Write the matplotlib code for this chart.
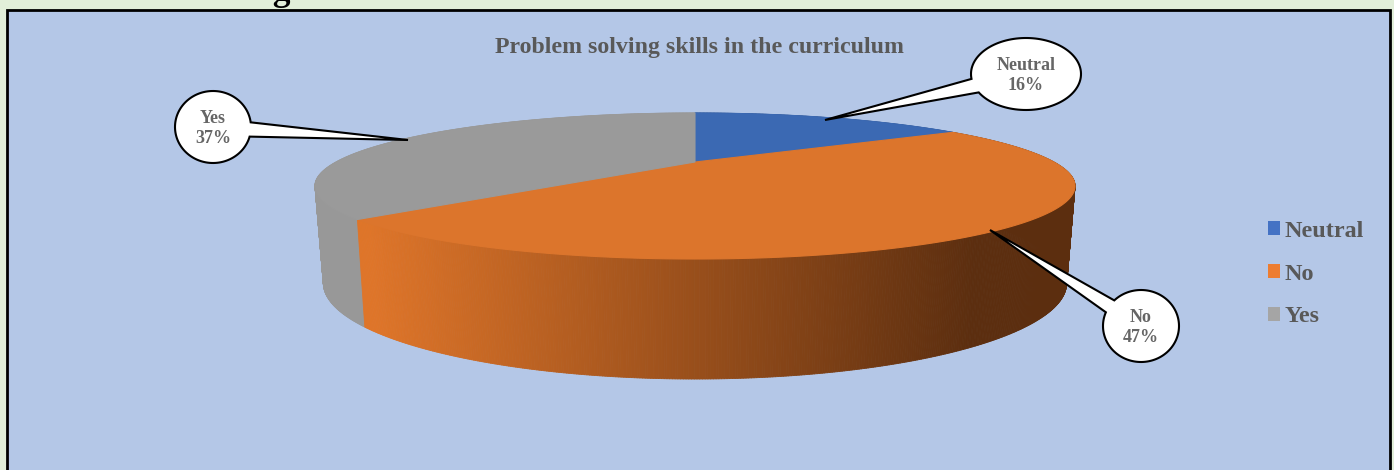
import numpy as np
import matplotlib
matplotlib.use('Agg')
import matplotlib.pyplot as plt
from matplotlib.collections import PolyCollection
from matplotlib.colors import to_rgb
from matplotlib.patches import Patch, PathPatch, Polygon, Rectangle
from matplotlib.path import Path

labels = ['Neutral', 'No', 'Yes']
shares = [16, 47, 37]
chart_title = 'Problem solving skills in the curriculum'
heading = 'Problem solving skills in the Curriculum'

top_colors = ['#3B69B3', '#DC752C', '#9A9A9A']
legend_colors = ['#4472C4', '#ED7D31', '#A5A5A5']
grey_text = '#595959'
serif = 'Liberation Serif'

W, H = 1394, 470

# perspective of the disc, fitted by eye against the picture
CX = 695
C_TOP = (358.9, -11.85, 162.0, 0.3288)
C_BOTTOM = (351.0, -2.9, 251.5, 0.3288)


def project(theta, coef):
    k, a, b, c = coef
    u, v = np.sin(theta), np.cos(theta)
    return CX + k * u / (1 + c * v), (a * v + b) / (1 + c * v)


def side_color(i, x):
    if i == 1:
        t = np.clip((x - 370) / (975 - 370), 0, 1)
        return tuple((1 - t) * np.array(to_rgb('#DF7529')) + t * np.array(to_rgb('#5C2E0F')))
    if i == 0:
        return to_rgb('#2C4E86')
    return to_rgb('#989898')


def callout(ax, cx, cy, rx, ry, tip, gap, text, size):
    # bubble and pointer as one outline
    tip_angle = np.arctan2((tip[1] - cy) / ry, (tip[0] - cx) / rx)
    t = np.linspace(tip_angle + gap, tip_angle + 2 * np.pi - gap, 120)
    pts = np.column_stack([cx + rx * np.cos(t), cy + ry * np.sin(t)])
    pts = np.vstack([pts, tip, pts[0]])
    codes = [Path.MOVETO] + [Path.LINETO] * (len(pts) - 2) + [Path.CLOSEPOLY]
    ax.add_patch(PathPatch(Path(pts, codes), facecolor='white', edgecolor='black',
                           lw=1.5, joinstyle='miter', zorder=5))
    ax.text(cx, cy + 1.5, text, ha='center', va='center', family=serif, weight='bold',
            fontsize=size, color='#666666', linespacing=1.25, zorder=6)


fig = plt.figure(figsize=(W / 100, H / 100), dpi=100, facecolor='#E2EFD9')
ax = fig.add_axes([0, 0, 1, 1])
ax.set_xlim(0, W)
ax.set_ylim(H, 0)
ax.axis('off')

# page heading, cut off by the top of the crop
ax.text(46, 0.5, heading, family=serif, weight='bold', fontsize=25.5, color='black',
        ha='left', va='baseline', clip_on=False, zorder=1)
ax.add_patch(Rectangle((7, 10), 1383, 480, facecolor='#B4C7E7', edgecolor='black', lw=2, zorder=2))
ax.text(699, 47, chart_title, family=serif, weight='bold', fontsize=17.2, color=grey_text,
        ha='center', va='center', zorder=6)

edges = np.cumsum([0] + shares) / sum(shares) * 2 * np.pi

# rim, back to front
quads, colors, depth = [], [], []
for i in range(len(shares)):
    th = np.linspace(edges[i], edges[i + 1], int(shares[i] * 12) + 2)
    for t0, t1 in zip(th[:-1], th[1:]):
        x0, y0 = project(t0, C_TOP)
        x1, y1 = project(t1, C_TOP)
        x2, y2 = project(t1, C_BOTTOM)
        x3, y3 = project(t0, C_BOTTOM)
        quads.append([(x0, y0), (x1, y1), (x2, y2), (x3, y3)])
        colors.append(side_color(i, (x0 + x1) / 2))
        depth.append(np.cos((t0 + t1) / 2))
order = np.argsort(depth)[::-1]
ax.add_collection(PolyCollection([quads[j] for j in order], facecolors=[colors[j] for j in order],
                                 edgecolors=[colors[j] for j in order], linewidths=0.6, zorder=3))

# top of the disc
centre = (CX, C_TOP[2])
for i in range(len(shares)):
    th = np.linspace(edges[i], edges[i + 1], 200)
    xs, ys = project(th, C_TOP)
    ax.add_patch(Polygon(np.vstack([centre, np.column_stack([xs, ys])]), closed=True,
                         facecolor=top_colors[i], edgecolor=top_colors[i], lw=0.8, zorder=4))

callout(ax, 1026, 74, 55, 36, (825, 120), 0.20, f'{labels[0]}\n{shares[0]}%', 13)
callout(ax, 1141, 326, 38, 36, (990, 230), 0.20, f'{labels[1]}\n{shares[1]}%', 13)
callout(ax, 213, 127, 38, 36, (408, 140), 0.20, f'{labels[2]}\n{shares[2]}%', 13)

handles = [Patch(facecolor=c, edgecolor='none') for c in legend_colors]
leg = ax.legend(handles, labels, loc='center left', bbox_to_anchor=(1268 / W, 1 - 274 / H),
                frameon=False, handlelength=0.5, handleheight=0.5, handletextpad=0.2,
                labelspacing=0.9, borderpad=0, borderaxespad=0,
                prop={'family': serif, 'weight': 'bold', 'size': 17.4})
leg.set_zorder(6)
for t in leg.get_texts():
    t.set_color(grey_text)

fig.savefig('out.png', dpi=100, facecolor=fig.get_facecolor())
